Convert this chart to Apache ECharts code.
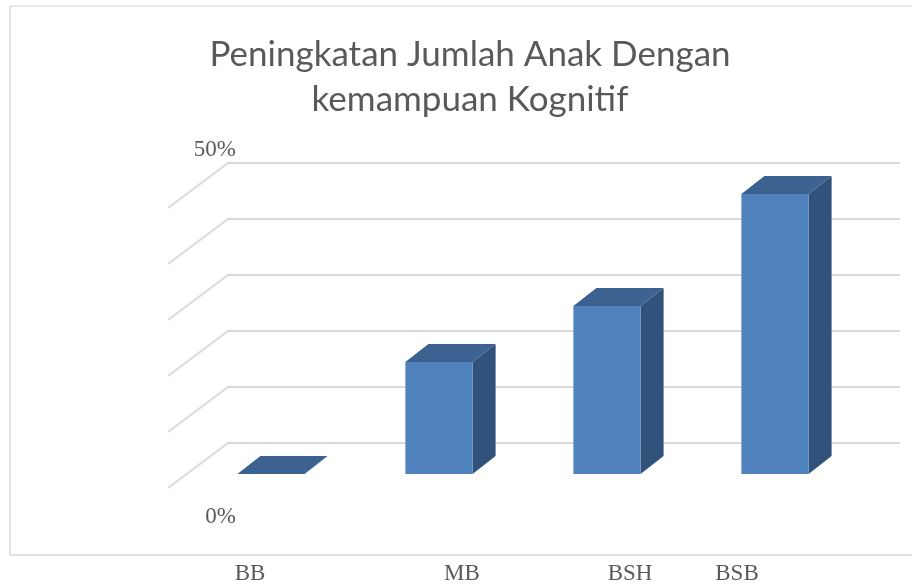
<!DOCTYPE html>
<html>
<head>
<meta charset="utf-8">
<script src="https://cdn.jsdelivr.net/npm/echarts@6/dist/echarts.min.js"></script>
<style>
  html, body { margin: 0; padding: 0; background: #fff; }
  #chart { width: 912px; height: 584px; }
</style>
</head>
<body>
<div id="chart"></div>
<script>
// data
var categories = ['BB', 'MB', 'BSH', 'BSB'];
var values = [0, 20, 30, 50];          // percent
var yTicks = [0, 10, 20, 30, 40, 50];
var yLabels = ['0%', '50%'];

// layout (3d look)
var FRONT = [-41, 31];   // back wall -> front plane of the bars
var DEPTH = [23, -18];   // bar front face -> bar back face
var WALL = [-60, 45];    // side wall gridline, back -> front
var labelX = [250, 462, 630, 737];

var chart = echarts.init(document.getElementById('chart'));

function renderBar(params, api) {
  var top = api.coord([api.value(0), api.value(1)]);
  var base = api.coord([api.value(0), 0]);
  var bw = api.size([1, 0])[0] * 0.4;
  var cx = top[0] + FRONT[0];
  var x0 = cx - bw / 2, x1 = cx + bw / 2;
  var y0 = top[1] + FRONT[1], y1 = base[1] + FRONT[1];
  var dx = DEPTH[0], dy = DEPTH[1];
  return {
    type: 'group',
    children: [
      {
        type: 'polygon',
        shape: { points: [[x1, y0], [x1 + dx, y0 + dy], [x1 + dx, y1 + dy], [x1, y1]] },
        style: { fill: '#31537b' }
      },
      {
        type: 'rect',
        shape: { x: x0, y: y0, width: bw, height: y1 - y0 },
        style: { fill: '#4f81bd' }
      },
      {
        type: 'polygon',
        shape: { points: [[x0, y0], [x1, y0], [x1 + dx, y0 + dy], [x0 + dx, y0 + dy]] },
        style: { fill: '#3c6291' }
      }
    ]
  };
}

function renderWall(params, api) {
  var y = api.coord([0, api.value(1)])[1];
  var x = params.coordSys.x;
  return {
    type: 'line',
    shape: { x1: x, y1: y, x2: x + WALL[0], y2: y + WALL[1] },
    style: { stroke: '#d9d9d9', lineWidth: 2 }
  };
}

var textStyle = { fontFamily: 'Liberation Serif', fontSize: 23, fill: '#595959' };

var option = {
  animation: false,
  backgroundColor: '#fff',
  title: {
    text: 'Peningkatan Jumlah Anak Dengan\nkemampuan Kognitif',
    left: 465,
    top: 27,
    textAlign: 'center',
    textStyle: {
      fontFamily: 'Lato',
      fontSize: 35,
      fontWeight: 'normal',
      color: '#595959',
      lineHeight: 45
    }
  },
  grid: { left: 228, right: 12, top: 163, bottom: 141 },
  xAxis: {
    type: 'category',
    data: categories,
    axisLine: { show: false },
    axisTick: { show: false },
    axisLabel: { show: false }
  },
  yAxis: {
    type: 'value',
    min: 0,
    max: 50,
    interval: 10,
    axisLine: { show: false },
    axisTick: { show: false },
    axisLabel: { show: false },
    splitLine: { lineStyle: { color: '#d9d9d9', width: 2 } }
  },
  series: [
    {
      type: 'custom',
      renderItem: renderWall,
      data: yTicks.map(function (v) { return [0, v]; }),
      encode: { x: 0, y: 1 },
      silent: true
    },
    {
      type: 'custom',
      renderItem: renderBar,
      data: values.map(function (v, i) { return [i, v]; }),
      encode: { x: 0, y: 1 }
    }
  ],
  graphic: [
    { type: 'line', shape: { x1: 10, y1: 6, x2: 10, y2: 555 }, style: { stroke: '#e3e3e3', lineWidth: 2 } },
    { type: 'line', shape: { x1: 10, y1: 6, x2: 912, y2: 6 }, style: { stroke: '#e8e8e8', lineWidth: 2 } },
    { type: 'line', shape: { x1: 10, y1: 555, x2: 912, y2: 555 }, style: { stroke: '#e0e0e0', lineWidth: 2 } },
    { type: 'text', x: 236, y: 150, style: Object.assign({ text: yLabels[1], textAlign: 'right', textVerticalAlign: 'middle' }, textStyle) },
    { type: 'text', x: 236, y: 517, style: Object.assign({ text: yLabels[0], textAlign: 'right', textVerticalAlign: 'middle' }, textStyle) }
  ].concat(categories.map(function (c, i) {
    return { type: 'text', x: labelX[i], y: 574, style: Object.assign({ text: c, textAlign: 'center', textVerticalAlign: 'middle' }, textStyle) };
  }))
};

chart.setOption(option);
</script>
</body>
</html>
